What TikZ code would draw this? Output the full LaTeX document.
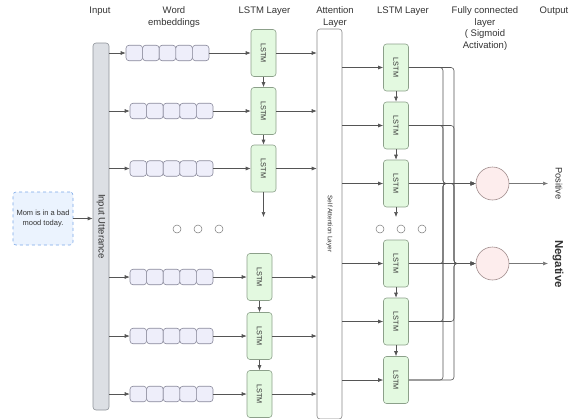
\documentclass[tikz,border=0pt]{standalone}
\usepackage{fontspec}
\setmainfont{Liberation Sans}
\usetikzlibrary{arrows.meta}
\definecolor{txt}{HTML}{333333}
\definecolor{ln}{HTML}{555555}
\definecolor{lstmfill}{HTML}{E3F9E0}
\definecolor{lstmdraw}{HTML}{8CA08A}
\definecolor{embfill}{HTML}{EEEEFA}
\definecolor{embdraw}{HTML}{8A8A9C}
\definecolor{barfill}{HTML}{DCDFE4}
\definecolor{bardraw}{HTML}{8E9298}
\definecolor{uttfill}{HTML}{EBF3FE}
\definecolor{uttdraw}{HTML}{7AA7E8}
\definecolor{cfill}{HTML}{FDEDED}
\definecolor{cdraw}{HTML}{A08C8C}
\begin{document}
\begin{tikzpicture}[x=1pt,y=-1pt,
  hdr/.style={font=\fontsize{9.5}{11.7}\selectfont, text=txt, align=center, anchor=north, inner sep=0pt},
  lstmbox/.style={draw=lstmdraw, fill=lstmfill, rounded corners=3pt, minimum width=25pt, minimum height=47pt, inner sep=0pt, line width=0.6pt},
  rottxt/.style={rotate=-90, font=\fontsize{7.3}{8}\selectfont, text=txt, inner sep=0pt},
  emb/.style={draw=embdraw, fill=embfill, rounded corners=3pt, minimum width=16.6pt, minimum height=15.5pt, inner sep=0pt, line width=0.6pt},
  arr/.style={draw=ln, line width=0.6pt, -{Latex[length=5pt,width=4pt]}},
  plain/.style={draw=ln, line width=0.6pt},
  bus/.style={draw=ln, line width=0.6pt, rounded corners=3pt, -{Latex[length=5pt,width=4pt]}},
  dot/.style={circle, draw=ln!80, line width=0.5pt, minimum size=8pt, inner sep=0pt},
  outc/.style={circle, draw=cdraw, fill=cfill, line width=0.6pt, minimum size=33pt, inner sep=0pt}
]
\useasboundingbox (0,0) rectangle (575,418);

% headings
\node[hdr] (h1) at (100,6.5) {Input};
\node[hdr] (h2) at (174,6.5) {Word\\embeddings};
\node[hdr] (h3) at (264.5,6.5) {LSTM Layer};
\node[hdr] (h4) at (335,6.5) {Attention\\Layer};
\node[hdr] (h5) at (403,6.5) {LSTM Layer};
\node[hdr] (h6) at (485,6.5) {Fully connected\\layer\\( Sigmoid\\Activation)};
\node[hdr] (h7) at (554,6.5) {Output};

% input bar
\node[draw=bardraw, fill=barfill, rounded corners=3pt, minimum width=16pt, minimum height=367pt, inner sep=0pt, line width=0.6pt] (bar) at (101,226.5) {};
\node[rottxt, font=\fontsize{9.5}{11}\selectfont] (bartxt) at (bar.center) {Input Utterance};

% utterance
\node[draw=uttdraw, fill=uttfill, dashed, rounded corners=3pt, minimum width=60pt, minimum height=53pt, inner sep=1pt, line width=0.6pt, align=center, font=\fontsize{7.5}{9.5}\selectfont, text=txt] (utt) at (43,218.5) {Mom is in a bad\\mood today.};
\draw[arr] (utt.east) -- (utt.east -| bar.west);

% attention layer
\node[draw=ln!70, fill=white, rounded corners=3pt, minimum width=25pt, minimum height=390pt, inner sep=0pt, line width=0.6pt] (att) at (329.5,224) {};
\node[rottxt, font=\fontsize{6.5}{8}\selectfont] (atttxt) at (att.center) {Self Attention Layer};

% rows: index/y/embedding start/lstm x
\foreach \i/\y/\sx/\lx in {1/53/126/263.5, 2/111/130/263.5, 3/168.5/130/263.5, 4/277/130/259.5, 5/336/130/259.5, 6/394/130/259.5}{
  \foreach \k in {1,...,5}{
    \node[emb] (e\i-\k) at ({\sx+8.3+16.6*(\k-1)},\y) {};
  }
  \node[lstmbox] (l\i) at (\lx,\y) {};
  \node[rottxt] (lt\i) at (l\i.center) {LSTM};
  \draw[arr] (bar.east |- e\i-1.west) -- (e\i-1.west);
  \draw[arr] (e\i-5.east) -- (l\i.west);
  \draw[arr] (l\i.east) -- (l\i.east -| att.west);
}
\draw[arr] (l1.south) -- (l2.north);
\draw[arr] (l2.south) -- (l3.north);
\coordinate (l3end) at (263.5,217);
\draw[arr] (l3.south) -- (l3end);
\draw[arr] (l4.south) -- (l5.north);
\draw[arr] (l5.south) -- (l6.north);

% dots
\node[dot] (d1) at (177,229) {};
\node[dot] (d2) at (198,229) {};
\node[dot] (d3) at (219,229) {};
\node[dot] (d4) at (380,229) {};
\node[dot] (d5) at (401,229) {};
\node[dot] (d6) at (422,229) {};

% right lstms
\foreach \i/\y in {1/67.5, 2/125.5, 3/183.5, 4/263.5, 5/321.5, 6/380}{
  \node[lstmbox] (r\i) at (396,\y) {};
  \node[rottxt] (rt\i) at (r\i.center) {LSTM};
  \draw[arr] (att.east |- r\i.west) -- (r\i.west);
}
\draw[arr] (r1.south) -- (r2.north);
\draw[arr] (r2.south) -- (r3.north);
\coordinate (r3end) at (396,217);
\draw[arr] (r3.south) -- (r3end);
\draw[arr] (r4.south) -- (r5.north);
\draw[arr] (r5.south) -- (r6.north);

% output circles
\node[outc] (c1) at (492.5,183.5) {};
\node[outc] (c2) at (492.5,263.5) {};
\coordinate (b1) at (443,183.5);
\coordinate (b2) at (454,263.5);

\foreach \i in {1,2,4,5,6}{
  \draw[bus] (r\i.east) -| (b1) -- (c1.west);
}
\draw[arr] (r3.east) -- (c1.west);
\foreach \i in {1,2,3,5,6}{
  \draw[bus] (r\i.east) -| (b2) -- (c2.west);
}
\draw[arr] (r4.east) -- (c2.west);

\coordinate (o1) at (548,183.5);
\coordinate (o2) at (548,263.5);
\draw[arr, draw=ln!80] (c1.east) -- (o1);
\draw[arr, draw=ln!80] (c2.east) -- (o2);
\node[rottxt, font=\fontsize{9.3}{11}\selectfont] (pos) at (559,183.5) {Positive};
\node[rottxt, font=\bfseries\fontsize{11.5}{13}\selectfont] (neg) at (558,264) {Negative};
\end{tikzpicture}
\end{document}
